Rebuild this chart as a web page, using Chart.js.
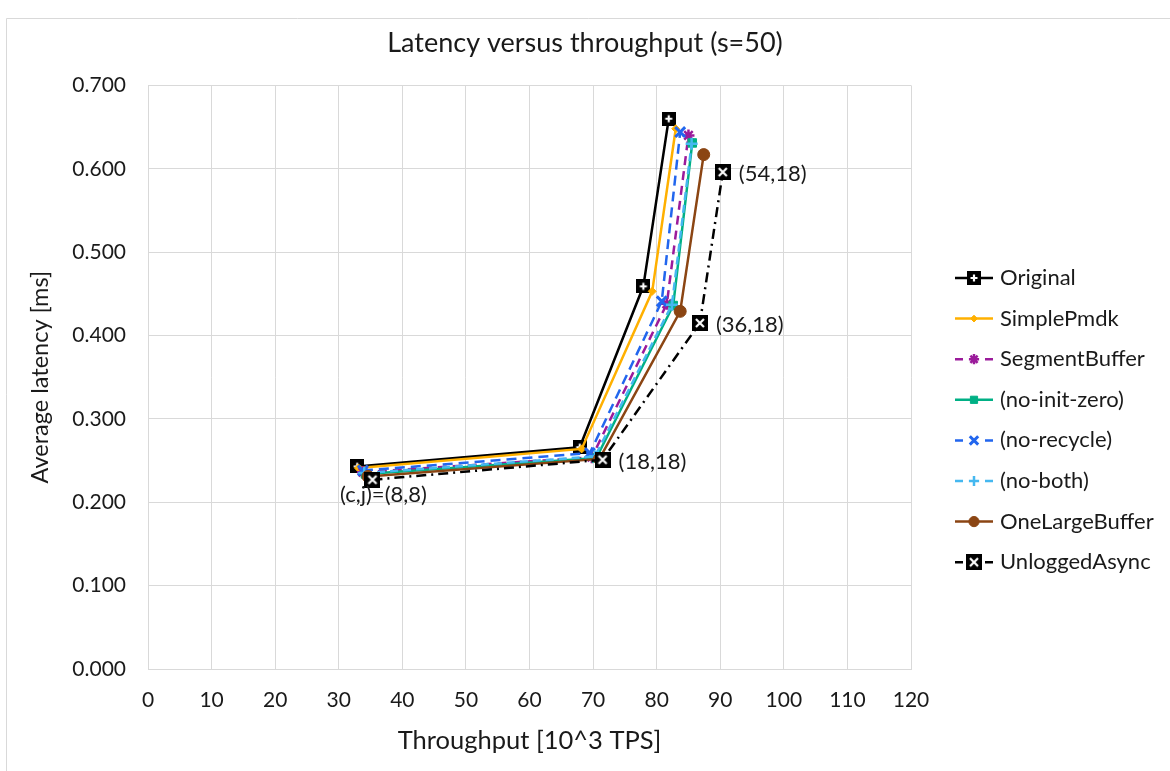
<!DOCTYPE html>
<html>
<head>
<meta charset="utf-8">
<script src="https://cdn.jsdelivr.net/npm/chart.js@4.4.1/dist/chart.umd.min.js"></script>
<style>
  html, body { margin: 0; padding: 0; background: #fff; }
  #wrap { width: 1170px; height: 771px; position: relative; }
</style>
</head>
<body>
<div id="wrap"><canvas id="myChart" width="1170" height="771"></canvas></div>
<script>
// series names
const seriesNames = ['Original', 'SimplePmdk', 'SegmentBuffer', '(no-init-zero)',
    '(no-recycle)', '(no-both)', 'OneLargeBuffer', 'UnloggedAsync'];

// throughput [10^3 TPS] and latency [ms] per series, (c,j) = (8,8), (18,18), (36,18), (54,18)
const originalX = [32.9, 67.9, 77.9, 81.9];
const originalY = [0.243, 0.266, 0.459, 0.660];
const simplePmdkX = [33.1, 68.2, 79.3, 83.0];
const simplePmdkY = [0.241, 0.264, 0.453, 0.648];
const segmentBufferX = [33.8, 69.8, 81.6, 85.0];
const segmentBufferY = [0.236, 0.254, 0.438, 0.640];
const noInitZeroX = [34.2, 70.5, 82.6, 85.6];
const noInitZeroY = [0.234, 0.253, 0.436, 0.631];
const noRecycleX = [33.8, 69.5, 80.8, 83.7];
const noRecycleY = [0.238, 0.259, 0.441, 0.644];
const noBothX = [34.0, 70.3, 82.4, 85.5];
const noBothY = [0.235, 0.255, 0.437, 0.630];
const oneLargeBufferX = [34.6, 71.0, 83.7, 87.4];
const oneLargeBufferY = [0.231, 0.252, 0.429, 0.617];
const unloggedAsyncX = [35.3, 71.5, 86.8, 90.4];
const unloggedAsyncY = [0.227, 0.251, 0.415, 0.596];

// point labels shown next to the UnloggedAsync series
const pointLabels = ['(c,j)=(8,8)', '(18,18)', '(36,18)', '(54,18)'];

const FONT = 'Lato, "Open Sans", sans-serif';
const TEXT = '#1a1a1a';

function toPoints(xs, ys) {
    return xs.map((x, i) => ({ x: x, y: ys[i] }));
}

// square marker with a white plus or a white X drawn inside
function boxMarker(size, kind) {
    const c = document.createElement('canvas');
    c.width = size; c.height = size;
    const g = c.getContext('2d');
    g.fillStyle = '#000';
    g.fillRect(0, 0, size, size);
    g.strokeStyle = '#fff';
    g.lineWidth = 2.2;
    const m = size * 0.25;
    g.beginPath();
    if (kind === 'plus') {
        g.moveTo(size / 2, m); g.lineTo(size / 2, size - m);
        g.moveTo(m, size / 2); g.lineTo(size - m, size / 2);
    } else {
        g.moveTo(m, m); g.lineTo(size - m, size - m);
        g.moveTo(size - m, m); g.lineTo(m, size - m);
    }
    g.stroke();
    return c;
}

const plusBox = boxMarker(14, 'plus');
const crossBox = boxMarker(16, 'cross');

const styles = [
    { color: '#000000', dash: [], point: plusBox, radius: 7, pw: 1 },
    { color: '#FFB000', dash: [], point: 'rectRot', radius: 4, pw: 1 },
    { color: '#9B1B9B', dash: [9, 6], point: 'star', radius: 6, pw: 2.5 },
    { color: '#00B085', dash: [], point: 'rect', radius: 6, pw: 1 },
    { color: '#2266EE', dash: [10, 6], point: 'crossRot', radius: 7, pw: 3 },
    { color: '#45B8F0', dash: [8, 5], point: 'cross', radius: 6, pw: 2.5 },
    { color: '#8B4513', dash: [], point: 'circle', radius: 6, pw: 1 },
    { color: '#000000', dash: [10, 5, 2, 5], point: crossBox, radius: 8, pw: 1 }
];

const seriesX = [originalX, simplePmdkX, segmentBufferX, noInitZeroX, noRecycleX, noBothX, oneLargeBufferX, unloggedAsyncX];
const seriesY = [originalY, simplePmdkY, segmentBufferY, noInitZeroY, noRecycleY, noBothY, oneLargeBufferY, unloggedAsyncY];

const datasets = seriesNames.map((name, i) => ({
    label: name,
    data: toPoints(seriesX[i], seriesY[i]),
    showLine: true,
    borderColor: styles[i].color,
    backgroundColor: styles[i].color,
    borderWidth: 2.5,
    borderDash: styles[i].dash,
    pointStyle: styles[i].point,
    pointRadius: styles[i].radius,
    pointHoverRadius: styles[i].radius,
    pointBorderWidth: styles[i].pw,
    pointBorderColor: styles[i].color,
    pointBackgroundColor: styles[i].color,
    order: seriesNames.length - i
}));

// outer frame lines (top and left) like the original image
const framePlugin = {
    id: 'frame',
    beforeDraw(chart) {
        const c = chart.ctx;
        c.save();
        c.fillStyle = '#fff';
        c.fillRect(0, 0, chart.width, chart.height);
        c.strokeStyle = '#d9d9d9';
        c.lineWidth = 1;
        c.beginPath();
        c.moveTo(6.5, chart.height);
        c.lineTo(6.5, 18.5);
        c.lineTo(chart.width, 18.5);
        c.stroke();
        c.restore();
    }
};

// text labels for the UnloggedAsync points
const labelPlugin = {
    id: 'pointLabels',
    afterDatasetsDraw(chart) {
        const meta = chart.getDatasetMeta(7);
        const c = chart.ctx;
        c.save();
        c.font = '22px ' + FONT;
        c.fillStyle = TEXT;
        c.textBaseline = 'middle';
        meta.data.forEach((pt, i) => {
            if (i === 0) {
                c.textAlign = 'center';
                c.fillText(pointLabels[i], pt.x + 11, pt.y + 15);
            } else {
                c.textAlign = 'left';
                c.fillText(pointLabels[i], pt.x + 16, pt.y + 2);
            }
        });
        c.restore();
    }
};

const drawPoint = Chart.helpers.drawPoint;

// legend on the right: line sample with marker, then the name
const legendPlugin = {
    id: 'sideLegend',
    afterDraw(chart) {
        const c = chart.ctx;
        const x0 = 955, x1 = 993, top = 278, step = 40.6;
        c.save();
        c.font = '22px ' + FONT;
        c.textBaseline = 'middle';
        c.textAlign = 'left';
        seriesNames.forEach((name, i) => {
            const y = top + i * step;
            const s = styles[i];
            c.strokeStyle = s.color;
            c.fillStyle = s.color;
            c.lineWidth = 2.5;
            c.setLineDash([]);
            c.beginPath();
            if (s.dash.length) {
                c.moveTo(x0, y); c.lineTo(x0 + 8, y);
                c.moveTo(x1 - 8, y); c.lineTo(x1, y);
            } else {
                c.moveTo(x0, y); c.lineTo(x1, y);
            }
            c.stroke();
            c.lineWidth = s.pw;
            drawPoint(c, {
                pointStyle: s.point,
                radius: s.radius * 0.85,
                rotation: 0,
                borderWidth: s.pw
            }, (x0 + x1) / 2, y);
            c.fillStyle = TEXT;
            c.fillText(name, 1000, y);
        });
        c.restore();
    }
};

new Chart(document.getElementById('myChart'), {
    type: 'scatter',
    data: { datasets: datasets },
    plugins: [framePlugin, labelPlugin, legendPlugin],
    options: {
        responsive: false,
        animation: false,
        layout: { padding: 0 },
        plugins: {
            legend: { display: false },
            tooltip: { enabled: false },
            title: {
                display: true,
                text: 'Latency versus throughput (s=50)',
                color: TEXT,
                font: { family: FONT, size: 27, weight: 'normal' },
                padding: { top: 27, bottom: 26 }
            }
        },
        scales: {
            x: {
                type: 'linear',
                min: 0,
                max: 120,
                ticks: {
                    stepSize: 10,
                    color: TEXT,
                    font: { family: FONT, size: 21 },
                    padding: 19
                },
                grid: { color: '#d9d9d9', drawTicks: false },
                border: { color: '#d9d9d9' },
                title: {
                    display: true,
                    text: 'Throughput [10^3 TPS]',
                    color: TEXT,
                    font: { family: FONT, size: 25.5 },
                    padding: { top: 4, bottom: 15 }
                },
                afterFit(scale) { scale.height = 102; }
            },
            y: {
                type: 'linear',
                min: 0,
                max: 0.7,
                ticks: {
                    stepSize: 0.1,
                    color: TEXT,
                    font: { family: FONT, size: 21 },
                    padding: 22,
                    callback: v => v.toFixed(3)
                },
                grid: { color: '#d9d9d9', drawTicks: false },
                border: { color: '#d9d9d9' },
                title: {
                    display: true,
                    text: 'Average latency [ms]',
                    color: TEXT,
                    font: { family: FONT, size: 23.5 },
                    padding: { top: 26, bottom: 0 }
                },
                afterFit(scale) { scale.width = 148; }
            },
            // empty right-hand axis that only reserves room for the legend
            yLegend: {
                type: 'linear',
                position: 'right',
                display: true,
                min: 0,
                max: 0.7,
                ticks: { display: false },
                grid: { display: false, drawTicks: false },
                border: { display: false },
                afterFit(scale) { scale.width = 259; }
            }
        }
    }
});
</script>
</body>
</html>
